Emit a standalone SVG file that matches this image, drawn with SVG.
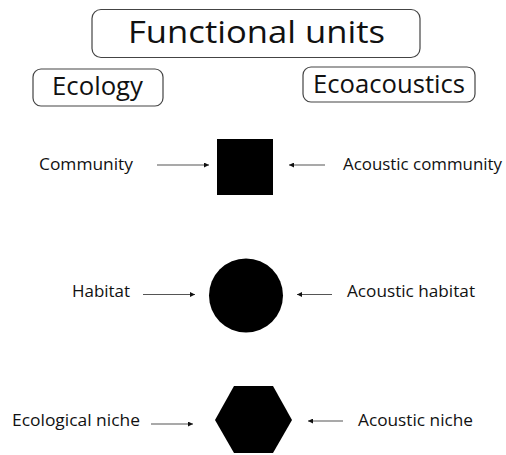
<svg xmlns="http://www.w3.org/2000/svg" width="506" height="455" viewBox="0 0 506 455">
<style>
  text { font-family: "Open Sans", "Noto Sans", "Liberation Sans", sans-serif; fill: #111; }
  .box { fill: #fff; stroke: #444; stroke-width: 1.2; }
  .lbl { font-size: 17px; }
  .conn line { stroke: #555; stroke-width: 1.2; }
  .shape { fill: #000; }
</style>
<defs>
  <marker id="ah" viewBox="0 0 10 10" refX="10" refY="5" markerWidth="5" markerHeight="5" markerUnits="userSpaceOnUse" orient="auto">
    <path d="M0,0 L10,5 L0,10 z" fill="#111"/>
  </marker>
</defs>
<rect width="506" height="455" fill="#fff"/>
<g id="title">
  <rect class="box" x="92" y="9.5" width="328" height="48" rx="9"/>
  <text x="128" y="43" font-size="31" textLength="257" lengthAdjust="spacingAndGlyphs">Functional units</text>
</g>
<g id="ecology">
  <rect class="box" x="33" y="69" width="130" height="37" rx="8"/>
  <text x="52" y="95" font-size="25" textLength="91" lengthAdjust="spacingAndGlyphs">Ecology</text>
</g>
<g id="ecoacoustics">
  <rect class="box" x="303" y="67" width="172" height="35" rx="8"/>
  <text x="313" y="93" font-size="25" textLength="152" lengthAdjust="spacingAndGlyphs">Ecoacoustics</text>
</g>
<g id="community">
  <text class="lbl" x="39" y="170" textLength="94" lengthAdjust="spacingAndGlyphs">Community</text>
</g>
<g id="acoustic-community">
  <text class="lbl" x="343" y="170" textLength="159" lengthAdjust="spacingAndGlyphs">Acoustic community</text>
</g>
<g id="square">
  <rect class="shape" x="217" y="139" width="56" height="56"/>
</g>
<g id="habitat">
  <text class="lbl" x="72" y="297" textLength="58" lengthAdjust="spacingAndGlyphs">Habitat</text>
</g>
<g id="acoustic-habitat">
  <text class="lbl" x="347" y="297" textLength="128" lengthAdjust="spacingAndGlyphs">Acoustic habitat</text>
</g>
<g id="circle">
  <circle class="shape" cx="246" cy="295.5" r="37"/>
</g>
<g id="ecological-niche">
  <text class="lbl" x="12" y="426" textLength="128" lengthAdjust="spacingAndGlyphs">Ecological niche</text>
</g>
<g id="acoustic-niche">
  <text class="lbl" x="358" y="426" textLength="115" lengthAdjust="spacingAndGlyphs">Acoustic niche</text>
</g>
<g id="hexagon">
  <polygon class="shape" points="234,386 273,386 292,420 273,453 234,453 215,420"/>
</g>
<g class="conn" id="connectors">
  <line x1="157" y1="165" x2="209" y2="165" marker-end="url(#ah)"/>
  <line x1="325" y1="165" x2="289" y2="165" marker-end="url(#ah)"/>
  <line x1="143" y1="294.5" x2="195" y2="294.5" marker-end="url(#ah)"/>
  <line x1="332" y1="294.5" x2="297" y2="294.5" marker-end="url(#ah)"/>
  <line x1="151" y1="424" x2="193" y2="424" marker-end="url(#ah)"/>
  <line x1="343" y1="421" x2="308" y2="421" marker-end="url(#ah)"/>
</g>
</svg>
